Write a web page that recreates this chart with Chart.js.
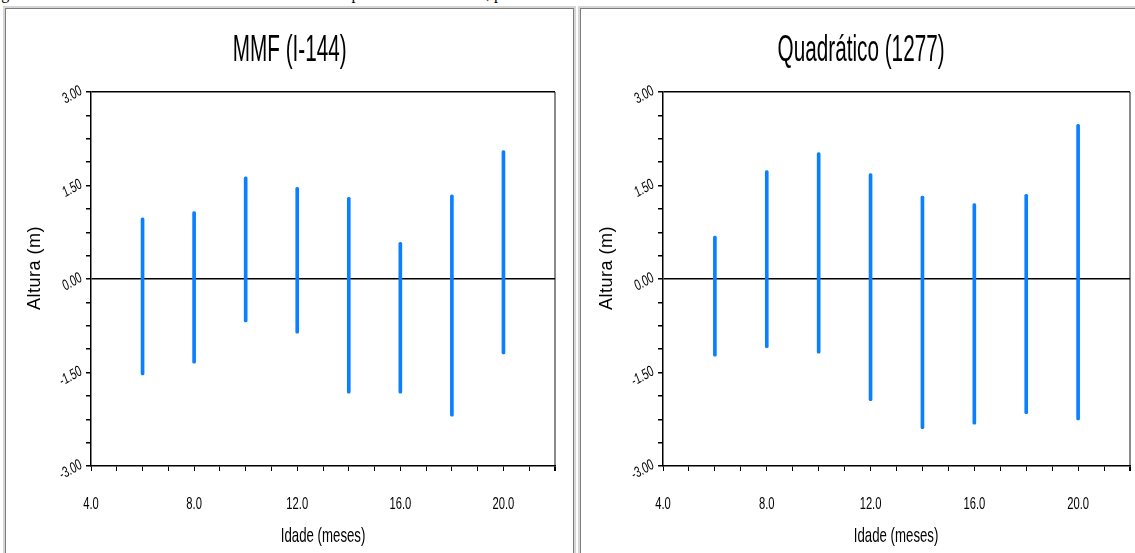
<!DOCTYPE html>
<html>
<head>
<meta charset="utf-8">
<script src="https://cdn.jsdelivr.net/npm/chart.js@4/dist/chart.umd.min.js"></script>
<style>
  body { margin: 0; width: 1135px; height: 553px; overflow: hidden; background: #fff; position: relative; font-family: "Liberation Sans", Arial, sans-serif; }
  .caption { position: absolute; top: -14px; left: -12px; font: 16px/16px "Liberation Serif", "Times New Roman", serif; white-space: nowrap; }
  .panel { position: absolute; top: 8px; height: 570px; border: 1px solid #7c7c7c; box-shadow: 0 0 0 2px #d6d6d6; }
  #p1 { left: 5px; width: 567px; }
  #p2 { left: 580px; width: 570px; }
  canvas { position: absolute; top: 0; }
  .title { position: absolute; top: 30px; text-align: center; font-size: 37px; line-height: 37px; white-space: nowrap; color: #000; }
  .xlab { position: absolute; top: 524px; text-align: center; font-size: 21px; line-height: 21px; white-space: nowrap; color: #000; }
  .ylab { position: absolute; top: 258px; width: 120px; height: 20px; text-align: center; font-size: 18px; line-height: 20px; letter-spacing: 0.5px; white-space: nowrap; color: #000; transform: rotate(-90deg); }
  .title span { display: inline-block; transform: scaleX(0.56); }
  .xlab span { display: inline-block; transform: scaleX(0.63); }
</style>
</head>
<body>
<div class="caption">Figura 3. Gráfico de resíduos do modelo de crescimento para a variável altura, para o melhor modelo</div>
<div class="panel" id="p1"></div>
<div class="panel" id="p2"></div>
<canvas id="chartMMF" width="575" height="553" style="left:0"></canvas>
<canvas id="chartQuad" width="560" height="553" style="left:575px"></canvas>
<div class="title" style="left:5px;width:569px"><span>MMF (I-144)</span></div>
<div class="title" style="left:580px;width:562px"><span>Quadrático (1277)</span></div>
<div class="xlab" style="left:91px;width:464px"><span>Idade (meses)</span></div>
<div class="xlab" style="left:663px;width:467px"><span>Idade (meses)</span></div>
<div class="ylab" style="left:-26px">Altura (m)</div>
<div class="ylab" style="left:546px">Altura (m)</div>
<script>
// ages (meses) where residuals were observed
const ages = [6, 8, 10, 12, 14, 16, 18, 20];

// MMF (I-144): residual range per age
const mmfHigh = [0.98, 1.08, 1.64, 1.47, 1.31, 0.59, 1.35, 2.06];
const mmfLow = [-1.54, -1.35, -0.69, -0.87, -1.83, -1.83, -2.20, -1.20];

// Quadrático (1277): residual range per age
const quadHigh = [0.69, 1.74, 2.03, 1.69, 1.33, 1.21, 1.36, 2.48];
const quadLow = [-1.24, -1.10, -1.19, -1.95, -2.40, -2.33, -2.16, -2.26];

// axis settings
const xMin = 4, xMax = 22, xStep = 1, xLabelEvery = 4;
const yMin = -3, yMax = 3, yStep = 0.375, yLabelEvery = 1.5;

const BLUE = '#0a7fff';

function isMultiple(v, m) {
  return Math.abs(v / m - Math.round(v / m)) < 1e-6;
}

// tick labels in the original are a squeezed (narrow) face, so draw them
// at the scale's own tick positions with a horizontal squeeze
const narrowTickLabels = {
  id: 'narrowTickLabels',
  afterDraw(chart) {
    const { ctx, scales: { x, y } } = chart;
    ctx.save();
    ctx.fillStyle = '#000';

    ctx.font = '16px "Liberation Sans", Arial, sans-serif';
    ctx.textAlign = 'center';
    ctx.textBaseline = 'alphabetic';
    x.ticks.forEach(t => {
      if (!isMultiple(t.value, xLabelEvery)) return;
      ctx.save();
      ctx.translate(x.getPixelForValue(t.value), x.top + 43);
      ctx.scale(0.7, 1);
      ctx.fillText(t.value.toFixed(1), 0, 0);
      ctx.restore();
    });

    ctx.font = 'italic 15px "Liberation Sans", Arial, sans-serif';
    ctx.textAlign = 'right';
    ctx.textBaseline = 'middle';
    y.ticks.forEach(t => {
      if (!isMultiple(t.value, yLabelEvery)) return;
      ctx.save();
      ctx.translate(y.right - 10, y.getPixelForValue(t.value) - 2);
      ctx.rotate(-Math.PI / 6);
      ctx.scale(0.7, 1);
      ctx.fillText(t.value.toFixed(2), 0, 0);
      ctx.restore();
    });
    ctx.restore();
  }
};

function makeChart(id, high, low, yAxisWidth, rightPad) {
  const ctx = document.getElementById(id).getContext('2d');
  return new Chart(ctx, {
    type: 'bar',
    data: {
      datasets: [{
        data: ages.map((a, i) => ({ x: a, y: [low[i], high[i]] })),
        backgroundColor: BLUE,
        barThickness: 3,
        borderRadius: 1.5,
        borderSkipped: false
      }]
    },
    options: {
      responsive: false,
      animation: false,
      layout: { padding: { top: 92, right: rightPad, left: 0, bottom: 0 } },
      plugins: { legend: { display: false }, tooltip: { enabled: false } },
      scales: {
        x: {
          type: 'linear',
          min: xMin,
          max: xMax,
          offset: false,
          afterFit: s => { s.height = 87; },
          border: { color: '#000', width: 1.5 },
          grid: {
            offset: false,
            color: c => c.tick && c.tick.value === xMax ? '#8a8a8a' : 'rgba(0,0,0,0)',
            lineWidth: c => c.tick && c.tick.value === xMax ? 2 : 1,
            tickColor: '#000',
            tickLength: 5
          },
          ticks: { stepSize: xStep, autoSkip: false, display: false }
        },
        y: {
          min: yMin,
          max: yMax,
          afterFit: s => { s.width = yAxisWidth; },
          border: { color: '#000', width: 1.5 },
          grid: {
            color: c => c.tick && (c.tick.value === 0 || c.tick.value === yMax) ? '#000' : 'rgba(0,0,0,0)',
            lineWidth: 1.5,
            tickColor: '#000',
            tickLength: 5
          },
          ticks: { stepSize: yStep, autoSkip: false, display: false }
        }
      }
    },
    plugins: [narrowTickLabels]
  });
}

const mmfChart = makeChart('chartMMF', mmfHigh, mmfLow, 91, 20);
const quadChart = makeChart('chartQuad', quadHigh, quadLow, 88, 5);
</script>
</body>
</html>
